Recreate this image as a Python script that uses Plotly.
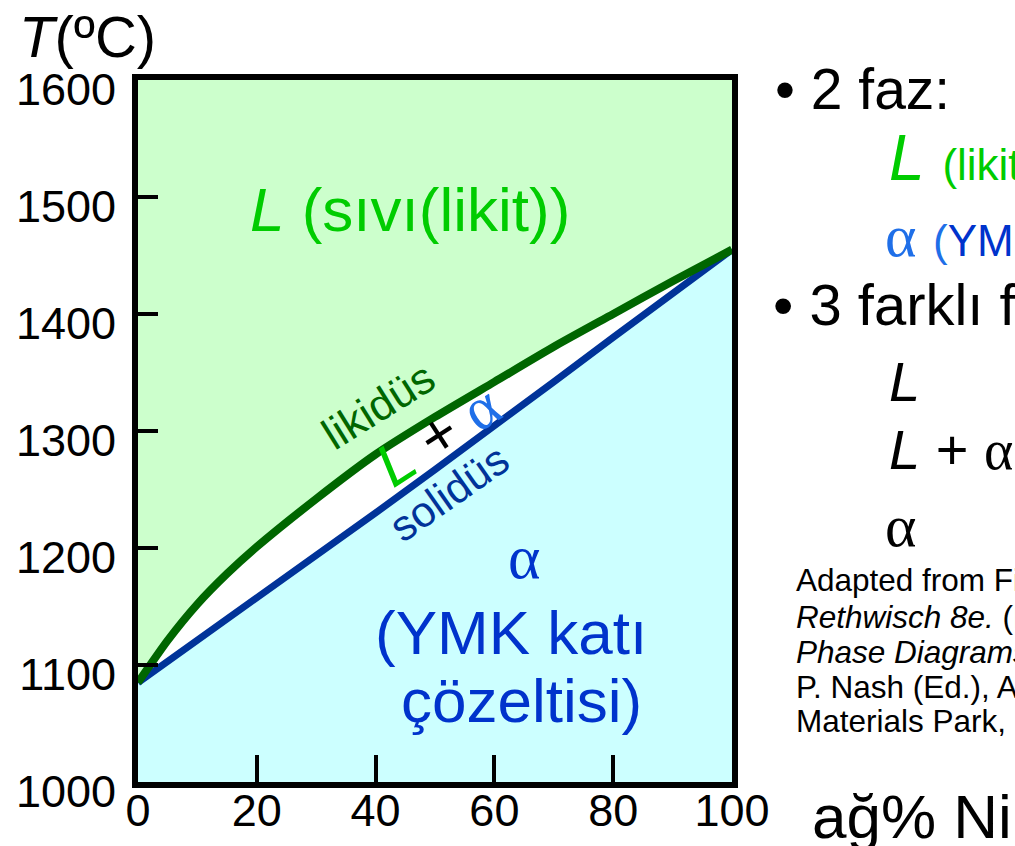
import plotly.graph_objects as go

# Cu-Ni phase diagram: composition (wt% Ni) and boundary temperatures (°C)
liquidus_ni = [0, 5, 10, 15, 20, 30, 40, 50, 60, 70, 80, 90, 100]
liquidus_t = [1085, 1121, 1152, 1178, 1201, 1242, 1280, 1312, 1342, 1372, 1400, 1428, 1455]

solidus_ni = [0, 10, 20, 30, 40, 50, 60, 70, 80, 90, 100]
solidus_t = [1085, 1121, 1157, 1194, 1230, 1267, 1304, 1342, 1380, 1418, 1455]

x_ticks = [0, 20, 40, 60, 80, 100]
y_ticks = [1000, 1100, 1200, 1300, 1400, 1500, 1600]
t_top = 1600

GREEN_FILL = "#ccffcc"
CYAN_FILL = "#ccffff"
LIQ_COLOR = "#006600"
SOL_COLOR = "#003399"
L_GREEN = "#00cc00"
A_BLUE = "#1f6fe8"
DARK_BLUE = "#0033cc"
FONT = "Liberation Sans, Arial, sans-serif"
SERIF = "Liberation Serif, Times New Roman, serif"

fig = go.Figure()

# alpha (solid) region below the solidus
fig.add_trace(go.Scatter(x=solidus_ni, y=solidus_t, mode="lines", line=dict(width=0),
                         fill="tozeroy", fillcolor=CYAN_FILL, hoverinfo="skip"))
# liquid region above the liquidus
fig.add_trace(go.Scatter(x=liquidus_ni, y=liquidus_t, mode="lines", line=dict(width=0),
                         hoverinfo="skip"))
fig.add_trace(go.Scatter(x=liquidus_ni, y=[t_top] * len(liquidus_ni), mode="lines",
                         line=dict(width=0), fill="tonexty", fillcolor=GREEN_FILL,
                         hoverinfo="skip"))
# boundary lines
fig.add_trace(go.Scatter(x=solidus_ni, y=solidus_t, mode="lines",
                         line=dict(color=SOL_COLOR, width=7), hoverinfo="skip"))
fig.add_trace(go.Scatter(x=liquidus_ni, y=liquidus_t, mode="lines",
                         line=dict(color=LIQ_COLOR, width=8, shape="spline", smoothing=0.6),
                         hoverinfo="skip"))

ann = []


def data_text(x, y, text, size, color, angle=0, family=FONT):
    ann.append(dict(x=x, y=y, xref="x", yref="y", text=text, showarrow=False,
                    textangle=angle, font=dict(size=size, color=color, family=family),
                    xanchor="center", yanchor="middle"))


def side_text(x, y, text, size, color="black", family=FONT):
    ann.append(dict(x=x, y=y, xref="paper", yref="paper", text=text, showarrow=False,
                    font=dict(size=size, color=color, family=family),
                    xanchor="left", yanchor="middle", align="left"))


alpha_span = '<span style="font-family:Liberation Serif">α</span>'

# labels inside the diagram
data_text(45.8, 1489.6, "<i>L</i> (sıvı(likit))", 62, L_GREEN)
data_text(40.4, 1322, "likidüs", 44, LIQ_COLOR, angle=-32)
data_text(50.4, 1296.5,
          f'<span style="color:{L_GREEN}"><i>L</i></span> + '
          f'<span style="color:{A_BLUE};font-family:Liberation Serif">α</span>',
          60, "black", angle=-33)
data_text(52.3, 1247, "solidüs", 43, SOL_COLOR, angle=-35)
data_text(65.0, 1192, "α", 62, DARK_BLUE, family=SERIF)
data_text(62.8, 1128, "(YMK katı", 62, DARK_BLUE)
data_text(64.5, 1070, "çözeltisi)", 62, DARK_BLUE)

# axis titles
side_text(-0.2037, 1.062, "<i>T</i>(ºC)", 58)
side_text(1.131, -0.049, "ağ% Ni", 62)

# notes on the right
side_text(1.069, 0.9875, "• 2 faz:", 57)
side_text(1.261, 0.8896,
          f'<i>L</i> <span style="font-size:44px">(likit)</span>', 64, L_GREEN)
side_text(1.254, 0.7792,
          f'<span style="font-family:Liberation Serif">α</span> '
          f'<span style="font-size:44px">(<span style="color:{DARK_BLUE}">YMK)</span></span>',
          60, A_BLUE)
side_text(1.066, 0.6799, "• 3 farklı faz alanı:", 58)
side_text(1.261, 0.5709, "<i>L</i>", 56)
side_text(1.261, 0.4741, f"<i>L</i> + {alpha_span}", 56)
side_text(1.254, 0.3645, alpha_span, 60)

notes = [
    "Adapted from Fig. 9.3(a), Callister &",
    "<i>Rethwisch 8e.</i> (Fig. 9.3(a) is adapted from",
    "<i>Phase Diagrams of Binary Nickel Alloys</i>,",
    "P. Nash (Ed.), ASM International,",
    "Materials Park, OH (1991).",
]
note_y = [0.2877, 0.2350, 0.1852, 0.1353, 0.0869]
for txt, yy in zip(notes, note_y):
    side_text(1.105, yy, txt, 31.5)

axis_common = dict(showline=True, linewidth=6, linecolor="black", mirror=True,
                   ticks="inside", tickwidth=4, tickcolor="black", showgrid=False,
                   zeroline=False, automargin=False,
                   tickfont=dict(size=45, color="black", family=FONT))

fig.update_xaxes(range=[0, 100], tickvals=x_ticks, ticklen=27, ticklabelstandoff=-16,
                 **axis_common)
fig.update_yaxes(range=[1000, 1600], tickvals=y_ticks, ticklen=20, ticklabelstandoff=7,
                 ticklabelshift=9, **axis_common)

fig.update_layout(
    width=1015, height=846,
    margin=dict(l=138, r=283, t=80, b=64),
    plot_bgcolor="white", paper_bgcolor="white",
    showlegend=False,
    annotations=ann,
    font=dict(family=FONT),
)

fig.write_html("out.html", config={"displayModeBar": False})
